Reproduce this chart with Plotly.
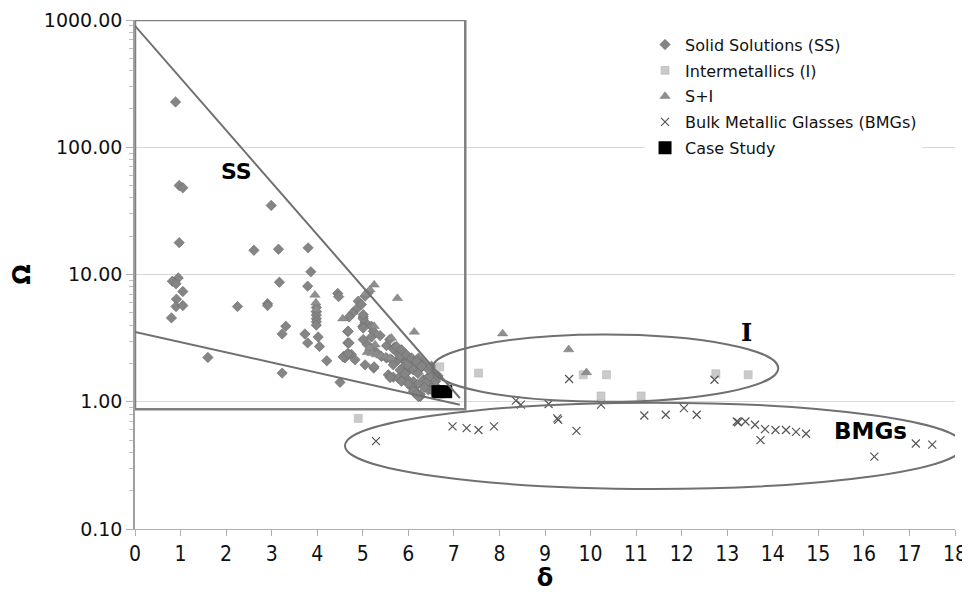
import math
import plotly.graph_objects as go

# ---------------- data ----------------
ss_delta = [0.89, 0.97, 1.05, 0.97, 0.95, 0.82, 0.90, 1.05, 0.91, 0.90, 1.05, 0.80, 1.60, 2.25,
            2.99, 2.61, 3.15, 3.80, 3.86, 3.17, 3.79, 2.91, 2.91, 4.45, 4.47,
            3.98, 3.98, 3.98, 3.98, 3.98, 3.98,
            3.31, 3.23, 3.73, 4.02, 3.79, 4.05, 4.21, 3.23, 4.50, 4.58, 4.67, 4.67, 4.67,
            4.90, 4.97, 4.85, 4.78, 4.70, 5.12, 5.05, 5.01, 5.05, 5.00, 5.19, 5.23, 5.01, 5.19, 5.38,
            4.68, 4.70, 4.61, 4.75, 4.83, 5.05, 5.24, 5.10, 5.19, 5.30, 5.52, 5.70, 5.78, 5.89, 5.78,
            5.96, 6.07, 6.17, 5.89, 6.01, 5.82, 6.27, 6.33, 5.56, 5.67, 5.78, 5.89, 6.00, 6.11, 6.20,
            6.07, 6.15, 6.26, 6.33, 6.44, 6.48, 6.55, 6.59, 5.59, 5.67, 5.52, 5.41, 5.63, 5.82, 5.67,
            6.00, 6.11, 6.21, 5.93, 6.44, 5.01, 5.01, 5.01, 4.57, 4.68, 5.25,
            5.74, 5.85, 5.96, 6.07, 6.29, 6.22, 6.42, 6.47, 6.44, 6.51, 6.18, 6.29,
            6.11, 6.18, 6.26, 6.22, 5.60, 5.85, 6.00, 6.35, 6.55, 6.60, 6.65]
ss_omega = [227, 50, 48, 17.8, 9.4, 8.85, 8.45, 7.35, 6.4, 5.6, 5.7, 4.56, 2.23, 5.6,
            34.9, 15.5, 15.8, 16.2, 10.5, 8.7, 8.1, 5.9, 5.7, 7.1, 6.7,
            5.5, 5.1, 4.8, 4.5, 4.25, 4.0,
            3.92, 3.41, 3.41, 3.23, 2.9, 2.72, 2.10, 1.68, 1.42, 2.27, 2.39, 2.9, 3.57,
            6.17, 5.80, 5.30, 4.99, 4.64, 7.18, 6.76, 4.64, 4.22, 3.92, 3.92, 3.58, 3.08, 3.23, 3.31,
            3.58, 2.90, 2.21, 2.35, 2.14, 1.95, 1.84, 2.81, 2.60, 2.45, 2.76, 2.69, 2.39, 2.14, 2.14,
            2.30, 2.14, 1.99, 1.87, 1.77, 1.77, 1.84, 1.99, 1.63, 1.56, 1.53, 1.51, 1.47, 1.44, 1.36,
            1.31, 1.21, 1.14, 1.49, 1.56, 1.39, 1.68, 1.34, 3.08, 2.60, 2.21, 2.27, 2.14, 2.27, 1.95,
            1.91, 1.78, 1.67, 1.67, 1.24, 3.80, 4.48, 4.84, 2.25, 2.39, 1.88,
            2.72, 2.56, 2.34, 2.21, 1.95, 2.20, 1.45, 1.58, 1.79, 1.90, 2.08, 1.90,
            1.21, 1.14, 1.10, 1.10, 1.55, 1.45, 1.38, 1.30, 1.20, 1.45, 1.60]

im_delta = [6.69, 7.54, 4.90, 9.84, 10.35, 10.23, 11.11, 12.75, 13.46]
im_omega = [1.88, 1.68, 0.74, 1.63, 1.63, 1.11, 1.11, 1.66, 1.63]

si_delta = [5.25, 5.16, 5.05, 5.76, 4.56, 6.13, 5.63, 3.95, 3.97, 3.98, 5.25, 5.27,
            5.10, 5.20, 5.30, 5.40, 5.50, 5.60, 5.15, 8.07, 9.52, 9.91]
si_omega = [8.3, 7.6, 7.0, 6.5, 4.5, 3.54, 3.17, 6.9, 6.0, 5.3, 3.92, 2.81,
            2.45, 2.40, 2.35, 2.30, 2.25, 2.20, 2.65, 3.43, 2.57, 1.70]

bmg_delta = [5.29, 6.97, 7.28, 7.54, 7.88, 8.36, 8.47, 9.08, 9.27, 9.29, 9.53, 9.69, 10.23,
             11.18, 12.72, 11.65, 12.05, 12.33, 13.21, 13.24, 13.40, 13.61, 13.73, 13.83,
             14.06, 14.29, 14.51, 14.73, 16.23, 17.14, 17.50]
bmg_omega = [0.49, 0.64, 0.62, 0.60, 0.64, 1.02, 0.95, 0.96, 0.74, 0.72, 1.51, 0.59, 0.95,
             0.78, 1.49, 0.79, 0.89, 0.79, 0.70, 0.69, 0.70, 0.66, 0.50, 0.61,
             0.60, 0.60, 0.58, 0.56, 0.37, 0.47, 0.46]

case_delta = [6.65, 6.82]
case_omega = [1.2, 1.2]

x_ticks = list(range(0, 19))

# region guides (delta, omega)
ss_box = dict(d0=0.0, d1=7.25, o0=0.875, o1=1000)
upper_line = dict(d0=0.0, o0=900, d1=7.13, o1=1.07)
lower_line = dict(d0=0.0, o0=3.54, d1=7.13, o1=0.947)
ell_I = dict(cd=10.32, cl=0.264, ad=3.80, bl=0.264)
ell_B = dict(cd=11.40, cl=-0.346, ad=6.79, bl=0.339)

# ---------------- figure ----------------
FONT = "DejaVu Sans, Verdana, sans-serif"
fig = go.Figure()

fig.add_trace(go.Scatter(x=ss_delta, y=ss_omega, mode="markers", name="Solid Solutions (SS)",
                         legendgroup="a",
                         marker=dict(symbol="diamond", size=8, color="#858585",
                                     line=dict(color="#6a6a6a", width=0.6))))
fig.add_trace(go.Scatter(x=im_delta, y=im_omega, mode="markers", name="Intermetallics (I)",
                         legendgroup="b",
                         marker=dict(symbol="square", size=8, color="#cacaca",
                                     line=dict(color="#b8b8b8", width=0.6))))
fig.add_trace(go.Scatter(x=si_delta, y=si_omega, mode="markers", name="S+I",
                         legendgroup="c",
                         marker=dict(symbol="triangle-up", size=9, color="#8e8e8e",
                                     line=dict(color="#7a7a7a", width=0.5))))
fig.add_trace(go.Scatter(x=bmg_delta, y=bmg_omega, mode="markers", name="Bulk Metallic Glasses (BMGs)",
                         legendgroup="d",
                         marker=dict(symbol="x-thin-open", size=8, color="#555555",
                                     line=dict(color="#555555", width=1.2))))
fig.add_trace(go.Scatter(x=case_delta, y=case_omega, mode="markers", name="Case Study",
                         legendgroup="e",
                         marker=dict(symbol="square", size=13, color="#000000")))

line_style = dict(color="#707070", width=2)
fig.add_shape(type="rect", xref="x", yref="y", x0=ss_box["d0"], x1=ss_box["d1"],
              y0=ss_box["o0"], y1=ss_box["o1"], line=dict(color="#808080", width=2.5))
for ln in (upper_line, lower_line):
    fig.add_shape(type="line", xref="x", yref="y", x0=ln["d0"], y0=ln["o0"],
                  x1=ln["d1"], y1=ln["o1"], line=line_style)
for e in (ell_I, ell_B):
    fig.add_shape(type="circle", xref="x", yref="y",
                  x0=e["cd"] - e["ad"], x1=e["cd"] + e["ad"],
                  y0=10 ** (e["cl"] - e["bl"]), y1=10 ** (e["cl"] + e["bl"]),
                  line=line_style)

lab_font = dict(family="DejaVu Sans, Verdana, sans-serif", color="#000000")
fig.add_annotation(x=2.23, y=math.log10(65), text="<b>SS</b>", showarrow=False,
                   font=dict(size=22, **lab_font))
fig.add_annotation(x=13.43, y=math.log10(3.47), text="<b>I</b>", showarrow=False,
                   font=dict(size=24, family="DejaVu Serif, serif", color="#000000"))
fig.add_annotation(x=16.15, y=math.log10(0.594), text="<b>BMGs</b>", showarrow=False,
                   font=dict(size=23, **lab_font))

fig.update_xaxes(range=[0, 18], tickvals=x_ticks, ticktext=[str(t) for t in x_ticks],
                 showgrid=False, zeroline=False, showline=True, linecolor="#b0b0b0", linewidth=1,
                 ticks="outside", ticklen=6, tickcolor="#b0b0b0",
                 tickfont=dict(family="Liberation Sans Narrow, DejaVu Sans Condensed, sans-serif",
                               size=21, color="#111111"),
                 title=dict(text="<b>δ</b>", font=dict(family=FONT, size=24, color="#000"),
                            standoff=2))
fig.update_yaxes(type="log", range=[-1, 3], dtick=1, tickformat=".2f",
                 showgrid=True, gridcolor="#d8d8d8", gridwidth=1, zeroline=False,
                 showline=True, linecolor="#a0a0a0", linewidth=1.5,
                 ticks="outside", ticklen=7, tickcolor="#b0b0b0",
                 minor=dict(ticks="outside", ticklen=4, tickcolor="#c0c0c0", dtick="D1", showgrid=False),
                 tickfont=dict(family=FONT, size=19, color="#111111"),
                 title=dict(text="<b>Ω</b>", font=dict(family=FONT, size=24, color="#000"),
                            standoff=14))

# the page body adds an 8px offset, so the figure is sized to fit the 970x592 window
fig.update_layout(
    width=962, height=584,
    margin=dict(l=127, r=15, t=12, b=63, autoexpand=False),
    paper_bgcolor="white", plot_bgcolor="white",
    showlegend=True,
    legend=dict(x=0.622, y=0.985, xanchor="left", yanchor="top", bgcolor="white",
                font=dict(family=FONT, size=16, color="#111111"), tracegroupgap=2),
    hovermode=False,
)

fig.write_html("out.html")
